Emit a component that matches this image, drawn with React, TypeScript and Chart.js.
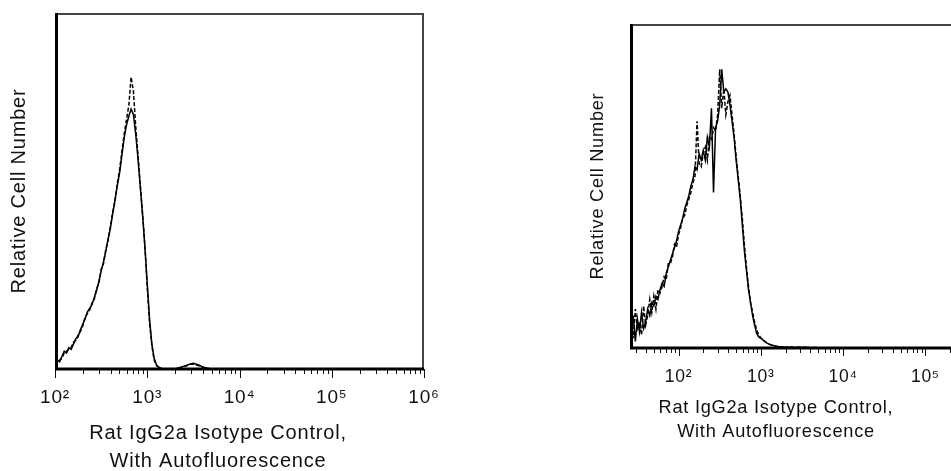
import React, { useEffect, useRef } from 'react';
import { Chart, registerables } from 'chart.js';
Chart.register(...registerables);

// ---------- data (log10 channel positions, relative cell number in %) ----------
const LEFT_START = 2.0;
const LEFT_STEP = 0.025;
const LEFT_SOLID = [
  1.5, 2.5, 2.0, 3.5, 5.0, 4.5, 6.0, 5.5, 7.0, 8.5, 9.0, 11.0, 12.5, 14.0, 16.0, 17.0,
  18.0, 20.0, 22.0, 24.5, 27.5, 30.0, 33.0, 36.5, 39.5, 43.5, 47.5, 51.5, 55.0, 60.0,
  65.0, 68.5, 71.0, 73.0, 71.5, 66.0, 59.0, 51.0, 43.0, 34.0, 24.0, 14.0, 7.0, 3.0, 1.2,
  0.5, 0.2, 0, 0, 0, 0, 0, 0, 0.2, 0.4, 0.6, 0.8, 1.0, 1.3, 1.5, 1.6, 1.4, 1.2, 0.9, 0.6,
  0.4, 0.2, 0.1, 0,
];
const LEFT_DASHED = [
  1.0, 2.0, 2.5, 3.0, 4.5, 5.0, 5.5, 6.0, 7.5, 8.0, 9.5, 10.5, 12.0, 14.5, 15.5, 16.5,
  18.5, 19.5, 22.5, 24.0, 28.0, 29.5, 33.5, 36.0, 40.0, 44.0, 47.0, 52.0, 56.0, 61.0,
  66.0, 70.0, 74.0, 82.0, 78.0, 68.0, 60.0, 51.5, 43.5, 34.5, 23.0, 13.0, 6.5, 2.5, 1.0,
  0.4, 0.1, 0, 0, 0, 0, 0, 0, 0.1, 0.3, 0.5, 0.7, 0.9, 1.1, 1.3, 1.4, 1.2, 1.0, 0.8, 0.5,
  0.3, 0.2, 0.1, 0,
];
const LEFT_MIN = 2;
const LEFT_MAX = 6;

const RIGHT_START = 1.4;
const RIGHT_STEP = 0.025;
const RIGHT_SOLID = [
  8, 4, 10, 2, 9, 5, 11, 6, 8, 12, 10, 14, 13, 16, 15, 18, 20, 19, 23, 25,
  27, 29, 31, 33, 36, 38, 40, 43, 45, 47, 50, 52, 56, 55, 60, 58, 61, 58, 65, 62,
  74, 48, 68, 70, 75, 86, 79, 80, 79, 75, 70, 65, 58, 52, 46, 38, 30, 24, 18, 14,
  10, 7, 4.5, 3.4, 3, 2.5, 2, 1.5, 1.2, 1, 0.8, 0.6, 0.5, 0.4, 0.3, 0.3, 0.2,
  0.3, 0.1, 0.4, 0.2, 0.1, 0.3, 0.2, 0.1, 0.3, 0.1, 0.2, 0.1, 0, 0.2, 0.1, 0, 0.1, 0, 0,
];
const RIGHT_DASHED = [
  5, 9, 3, 12, 6, 8, 4, 13, 7, 10, 15, 11, 16, 12, 18, 17, 19, 22, 21, 26,
  26, 28, 32, 31, 35, 37, 40, 41, 44, 46, 48, 51, 53, 70, 57, 56, 60, 62, 58, 65,
  64, 68, 67, 72, 86, 74, 80, 72, 76, 78, 72, 66, 59, 53, 47, 40, 32, 25, 19, 14,
  11, 8, 5.5, 4, 3.2, 2.5, 2, 1.5, 1.2, 0.9, 0.7, 0.6, 0.5, 0.4, 0.3, 0.2, 0.3,
  0.1, 0.3, 0.2, 0.1, 0.2, 0.3, 0.1, 0.2, 0.1, 0.2, 0, 0.1, 0.1, 0, 0.1, 0, 0, 0,
];
const RIGHT_MIN = 1.41;
const RIGHT_MAX = 6;

const Y_TITLE = 'Relative Cell Number';
const X_TITLE = ['Rat IgG2a Isotype Control,', 'With Autofluorescence'];
const SUP: Record<number, string> = { 1: '¹', 2: '²', 3: '³', 4: '⁴', 5: '⁵', 6: '⁶' };

const FONT = "'Liberation Sans', Arial, sans-serif";

function toPoints(start: number, step: number, vals: number[], max: number) {
  const pts = vals.map((v, i) => ({ x: start + i * step, y: v }));
  pts.push({ x: max, y: 0 });
  return pts;
}

const framePlugin = {
  id: 'frame',
  beforeDraw(chart: any) {
    chart.ctx.letterSpacing = chart.options.plugins.frame.spacing;
  },
  afterDatasetsDraw(chart: any, _a: any, opts: any) {
    const { ctx, chartArea } = chart;
    const { left, right, top, bottom } = chartArea;
    const xs = chart.scales.x;
    ctx.save();
    ctx.strokeStyle = '#111';
    ctx.lineWidth = 1;
    for (let d = Math.floor(xs.min); d <= Math.ceil(xs.max); d++) {
      for (let k = 1; k <= 9; k++) {
        const v = d + Math.log10(k);
        if (v < xs.min - 1e-9 || v > xs.max + 1e-9) continue;
        const px = Math.round(xs.getPixelForValue(v)) + 0.5;
        const len = k === 1 ? opts.major : opts.minor;
        ctx.beginPath();
        ctx.moveTo(px, bottom);
        ctx.lineTo(px, bottom + len);
        ctx.stroke();
      }
    }
    ctx.strokeStyle = '#444';
    ctx.lineWidth = 2;
    ctx.beginPath();
    ctx.moveTo(left, top + 1);
    ctx.lineTo(right - 1, top + 1);
    ctx.lineTo(right - 1, bottom);
    ctx.stroke();
    ctx.strokeStyle = '#000';
    ctx.lineWidth = 3;
    ctx.beginPath();
    ctx.moveTo(left + 1.5, top);
    ctx.lineTo(left + 1.5, bottom);
    ctx.lineTo(right, bottom);
    ctx.stroke();
    ctx.fillStyle = '#111';
    ctx.font = `${opts.titleSize}px ${FONT}`;
    ctx.textAlign = 'center';
    ctx.textBaseline = 'middle';
    X_TITLE.forEach((t, i) => ctx.fillText(t, opts.titleX, opts.titleY + i * opts.titleGap));
    ctx.restore();
  },
};

interface PanelCfg {
  start: number;
  step: number;
  solid: number[];
  dashed: number[];
  min: number;
  max: number;
  axisW: number;
  axisH: number;
  padTop: number;
  padRight: number;
  yTitlePad: number;
  tickPad: number;
  tickSize: number;
  titleSize: number;
  spacing: string;
  titleX: number;
  titleY: number;
  titleGap: number;
  major: number;
  minor: number;
}

function buildChart(canvas: HTMLCanvasElement, c: PanelCfg) {
  return new Chart(canvas, {
    type: 'line',
    data: {
      datasets: [
        {
          data: toPoints(c.start, c.step, c.solid, c.max),
          borderColor: '#000',
          borderWidth: 1.5,
          pointRadius: 0,
          fill: false,
          tension: 0,
        },
        {
          data: toPoints(c.start, c.step, c.dashed, c.max),
          borderColor: '#000',
          borderWidth: 1.5,
          borderDash: [4, 2],
          pointRadius: 0,
          fill: false,
          tension: 0,
        },
      ],
    },
    options: {
      animation: false,
      responsive: false,
      maintainAspectRatio: false,
      layout: { padding: { top: c.padTop, right: c.padRight, left: 0, bottom: 0 } },
      plugins: {
        legend: { display: false },
        tooltip: { enabled: false },
        frame: {
          spacing: c.spacing,
          titleSize: c.titleSize,
          titleX: c.titleX,
          titleY: c.titleY,
          titleGap: c.titleGap,
          major: c.major,
          minor: c.minor,
        },
      },
      scales: {
        x: {
          type: 'linear',
          min: c.min,
          max: c.max,
          grid: { display: false, drawTicks: false },
          border: { display: false },
          afterBuildTicks: (s: any) => {
            const t = [];
            for (let d = Math.ceil(s.min); d <= Math.floor(s.max); d++) t.push({ value: d });
            s.ticks = t;
          },
          afterFit: (s: any) => {
            s.height = c.axisH;
          },
          ticks: {
            autoSkip: false,
            maxRotation: 0,
            padding: c.tickPad,
            color: '#111',
            font: { family: FONT, size: c.tickSize },
            callback: (v: any) => '10' + (SUP[v as number] || ''),
          },
        },
        y: {
          type: 'linear',
          min: 0,
          max: 100,
          grid: { display: false, drawTicks: false },
          border: { display: false },
          ticks: { display: false },
          afterFit: (s: any) => {
            s.width = c.axisW;
          },
          title: {
            display: true,
            text: Y_TITLE,
            color: '#111',
            font: { family: FONT, size: c.titleSize, lineHeight: 1.2 },
            padding: { top: c.yTitlePad, bottom: 0 },
          },
        },
      },
    },
    plugins: [framePlugin],
  } as any);
}

function Panel(props: { cfg: PanelCfg; left: number; width: number }) {
  const ref = useRef<HTMLCanvasElement>(null);
  useEffect(() => {
    if (!ref.current) return;
    const ch = buildChart(ref.current, props.cfg);
    return () => ch.destroy();
  }, []);
  return (
    <canvas
      ref={ref}
      width={props.width}
      height={471}
      style={{ position: 'absolute', left: props.left, top: 0, width: props.width, height: 471 }}
    />
  );
}

const LEFT_CFG: PanelCfg = {
  start: LEFT_START,
  step: LEFT_STEP,
  solid: LEFT_SOLID,
  dashed: LEFT_DASHED,
  min: LEFT_MIN,
  max: LEFT_MAX,
  axisW: 55,
  axisH: 102,
  padTop: 13,
  padRight: 520 - 424,
  yTitlePad: 7,
  tickPad: 17,
  tickSize: 19,
  titleSize: 20,
  spacing: '0.8px',
  titleX: 218,
  titleY: 433,
  titleGap: 28,
  major: 9,
  minor: 5,
};

const RIGHT_CFG: PanelCfg = {
  start: RIGHT_START,
  step: RIGHT_STEP,
  solid: RIGHT_SOLID,
  dashed: RIGHT_DASHED,
  min: RIGHT_MIN,
  max: RIGHT_MAX,
  axisW: 150,
  axisH: 123,
  padTop: 24,
  padRight: 560 - 535,
  yTitlePad: 107,
  tickPad: 19,
  tickSize: 17.5,
  titleSize: 18.2,
  spacing: '0.75px',
  titleX: 776 - 480,
  titleY: 408,
  titleGap: 24,
  major: 8,
  minor: 5,
};

export default function App() {
  useEffect(() => {
    document.body.style.margin = '0';
    document.body.style.background = '#fff';
  }, []);
  return (
    <div style={{ position: 'absolute', left: 0, top: 0, width: 951, height: 471, background: '#fff', overflow: 'hidden' }}>
      <Panel cfg={LEFT_CFG} left={0} width={520} />
      <Panel cfg={RIGHT_CFG} left={480} width={560} />
    </div>
  );
}
